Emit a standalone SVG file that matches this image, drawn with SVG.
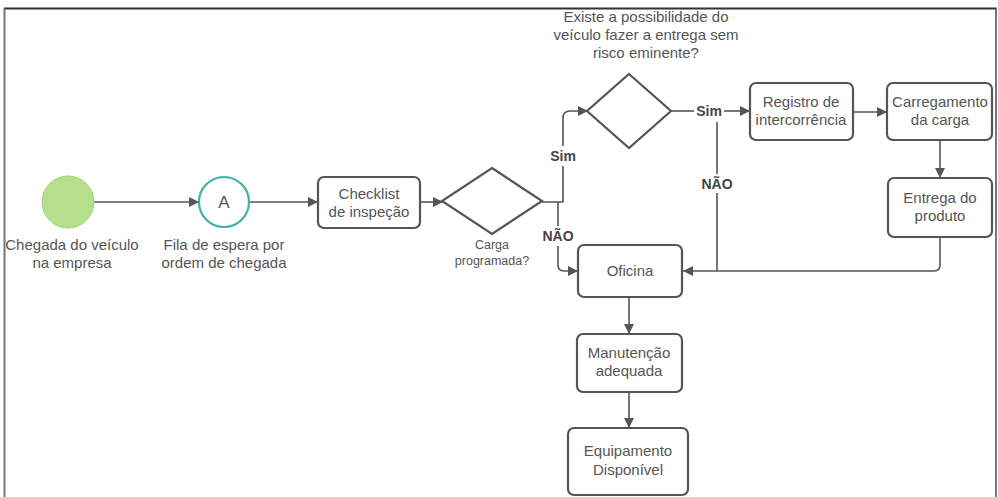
<svg xmlns="http://www.w3.org/2000/svg" width="998" height="497" viewBox="0 0 998 497">
<style>
.t{font-family:"Liberation Sans",Arial,sans-serif;font-size:15px;fill:#555;text-anchor:middle}
.s{font-size:12.5px}
.b{font-family:"Liberation Sans",Arial,sans-serif;font-size:14px;font-weight:bold;fill:#444;text-anchor:middle}
.box{fill:#fff;stroke:#555;stroke-width:2.2}
.c{fill:none;stroke:#555;stroke-width:1.6}
</style>
<defs>
<marker id="ah" viewBox="0 0 10 10" refX="10" refY="5" markerWidth="10" markerHeight="10" markerUnits="userSpaceOnUse" orient="auto">
<path d="M0,0 L10,5 L0,10 z" fill="#555"/>
</marker>
</defs>
<rect x="0" y="0" width="998" height="497" fill="#fff"/>
<path d="M4.5,497 V8.5 H996 V497" fill="none" stroke="#777" stroke-width="2"/>
<path d="M4.5,8.5 H996" stroke="#333" stroke-width="1.5"/>
<g id="connectors">
<path class="c" d="M94,202 H199" marker-end="url(#ah)"/>
<path class="c" d="M249,202 H318" marker-end="url(#ah)"/>
<path class="c" d="M420,202 H443" marker-end="url(#ah)"/>
<path class="c" d="M542,202 H563 V166"/>
<path class="c" d="M563,146 V118 Q563,111 570,111 H588" marker-end="url(#ah)"/>
<path class="c" d="M558,202 V226"/>
<path class="c" d="M558,246 V265 Q558,271 564,271 H578" marker-end="url(#ah)"/>
<path class="c" d="M671,111 H694"/>
<path class="c" d="M724,111 H750" marker-end="url(#ah)"/>
<path class="c" d="M717,122 V174"/>
<path class="c" d="M717,193 V271"/>
<path class="c" d="M853,112 H887" marker-end="url(#ah)"/>
<path class="c" d="M940,140 V178" marker-end="url(#ah)"/>
<path class="c" d="M940,237 V265 Q940,271 934,271 H683" marker-end="url(#ah)"/>
<path class="c" d="M629,297 V334" marker-end="url(#ah)"/>
<path class="c" d="M629,392 V428" marker-end="url(#ah)"/>
<text class="b" x="563" y="161">Sim</text>
<text class="b" x="558" y="241">NÃO</text>
<text class="b" x="709" y="116">Sim</text>
<text class="b" x="717" y="189">NÃO</text>
</g>
<g id="start">
<circle cx="68" cy="202" r="26" fill="#b6df8c" stroke="#a6d27a" stroke-width="1"/>
<text class="t" x="72" y="250">Chegada do veículo</text>
<text class="t" x="72" y="268">na empresa</text>
</g>
<g id="fila">
<circle cx="224" cy="202" r="25" fill="#fff" stroke="#3fb3a3" stroke-width="2.2"/>
<text class="t" x="224" y="208" style="font-size:17px">A</text>
<text class="t" x="224" y="250">Fila de espera por</text>
<text class="t" x="224" y="268">ordem de chegada</text>
</g>
<g id="checklist">
<rect class="box" x="318" y="177" width="102" height="51" rx="6"/>
<text class="t" x="369" y="199">Checklist</text>
<text class="t" x="369" y="217">de inspeção</text>
</g>
<g id="carga">
<path class="box" d="M492,168 L542,201 L492,234 L442,201 Z"/>
<text class="t s" x="492" y="249">Carga</text>
<text class="t s" x="492" y="265">programada?</text>
</g>
<g id="risco">
<path class="box" d="M629,74 L671,111 L629,148 L587,111 Z"/>
<text class="t" x="646" y="22">Existe a possibilidade do</text>
<text class="t" x="646" y="40">veículo fazer a entrega sem</text>
<text class="t" x="646" y="58">risco eminente?</text>
</g>
<g id="registro">
<rect class="box" x="750" y="83" width="103" height="57" rx="6"/>
<text class="t" x="801" y="107">Registro de</text>
<text class="t" x="801" y="125">intercorrência</text>
</g>
<g id="carregamento">
<rect class="box" x="887" y="83" width="105" height="57" rx="6"/>
<text class="t" x="940" y="107">Carregamento</text>
<text class="t" x="940" y="125">da carga</text>
</g>
<g id="entrega">
<rect class="box" x="888" y="178" width="104" height="59" rx="6"/>
<text class="t" x="940" y="203">Entrega do</text>
<text class="t" x="940" y="221">produto</text>
</g>
<g id="oficina">
<rect class="box" x="578" y="245" width="104" height="52" rx="6"/>
<text class="t" x="630" y="276">Oficina</text>
</g>
<g id="manutencao">
<rect class="box" x="577" y="334" width="105" height="58" rx="6"/>
<text class="t" x="629" y="358">Manutenção</text>
<text class="t" x="629" y="376">adequada</text>
</g>
<g id="equipamento">
<rect class="box" x="568" y="428" width="120" height="67" rx="6"/>
<text class="t" x="628" y="456">Equipamento</text>
<text class="t" x="628" y="475">Disponível</text>
</g>
</svg>
